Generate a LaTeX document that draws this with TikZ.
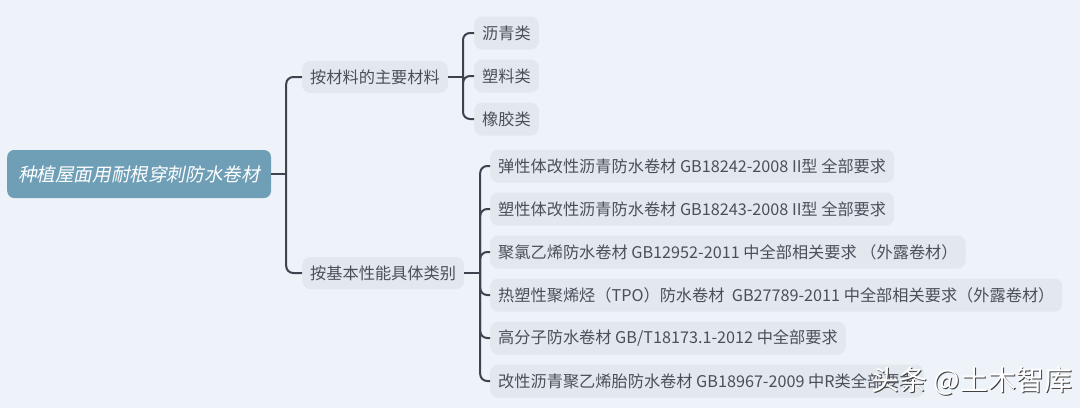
\documentclass[tikz,border=0pt]{standalone}
\usepackage{fontspec}
\setmainfont{Noto Sans CJK SC}
\newfontfamily\rootfont{Noto Sans CJK SC}[FakeSlant=0.2]
\usetikzlibrary{positioning}
\definecolor{bg}{HTML}{EEF3FA}
\definecolor{boxfill}{HTML}{E3E8EF}
\definecolor{linecol}{HTML}{3D4450}
\definecolor{txt}{HTML}{4A505A}
\definecolor{rootfill}{HTML}{6E9FB6}
\newcommand\leafgap{43pt}
\tikzset{
    root/.style={fill=rootfill, rounded corners=7pt, text=white, font=\rootfont\fontsize{18.6}{20}\selectfont, minimum height=48pt, inner xsep=11pt},
    branch/.style={fill=boxfill, rounded corners=8pt, text=txt, font=\fontsize{16.2}{18}\selectfont, minimum height=32pt, inner xsep=8pt},
    leaf/.style={branch, minimum height=33pt},
    conn/.style={draw=linecol, line width=2pt, rounded corners=7pt},
    wmark/.style={font=\fontsize{28}{30}\selectfont, text=white},
    wshadow/.style={wmark, text=black!75},
}

\begin{document}
\begin{tikzpicture}[x=1pt,y=1pt]
    \path[use as bounding box, fill=bg] (0,0) rectangle (1080,-408);
    % root and the two groups
    \node[root, anchor=west] (r) at (7,-174) {种植屋面用耐根穿刺防水卷材};
    \node[branch, anchor=west] (m) at (302,-77) {按材料的主要材料};
    \node[branch, anchor=west] (p) at (302,-273) {按基本性能具体类别};
    % by material
    \node[leaf, anchor=west] (m1) at (474,-33) {沥青类};
    \node[leaf, below=\leafgap of m1.west, anchor=west] (m2) {塑料类};
    \node[leaf, below=\leafgap of m2.west, anchor=west] (m3) {橡胶类};
    % by performance
    \node[leaf, anchor=west] (p1) at (490,-166) {弹性体改性沥青防水卷材 GB18242-2008 II型 全部要求};
    \node[leaf, below=\leafgap of p1.west, anchor=west] (p2) {塑性体改性沥青防水卷材 GB18243-2008 II型 全部要求};
    \node[leaf, below=\leafgap of p2.west, anchor=west] (p3) {聚氯乙烯防水卷材 GB12952-2011 中全部相关要求 （外露卷材）};
    \node[leaf, below=\leafgap of p3.west, anchor=west] (p4) {热塑性聚烯烃（TPO）防水卷材\ \ GB27789-2011 中全部相关要求（外露卷材）};
    \node[leaf, below=\leafgap of p4.west, anchor=west] (p5) {高分子防水卷材 GB/T18173.1-2012 中全部要求};
    \node[leaf, below=\leafgap of p5.west, anchor=west] (p6) {改性沥青聚乙烯胎防水卷材 GB18967-2009 中R类全部要求};
    % junctions
    \coordinate (rj) at ([xshift=15pt]r.east);
    \coordinate (mj) at ([xshift=15pt]m.east);
    \coordinate (pj) at ([xshift=16pt]p.east);
    % connectors
    \draw[conn] (r.east) -- (rj);
    \foreach \n in {m,p}
        \draw[conn] (rj) |- (\n.west);
    \draw[conn] (m.east) -- (mj);
    \foreach \n in {m1,m2,m3}
        \draw[conn] (mj) |- (\n.west);
    \draw[conn] (p.east) -- (pj);
    \foreach \n in {p1,p2,p3,p4,p5,p6}
        \draw[conn] (pj) |- (\n.west);
    % watermark
    \node[wshadow] at (973,-382) {头条 @土木智库};
    \node[wmark] (wm) at (972,-381) {头条 @土木智库};
\end{tikzpicture}
\end{document}
